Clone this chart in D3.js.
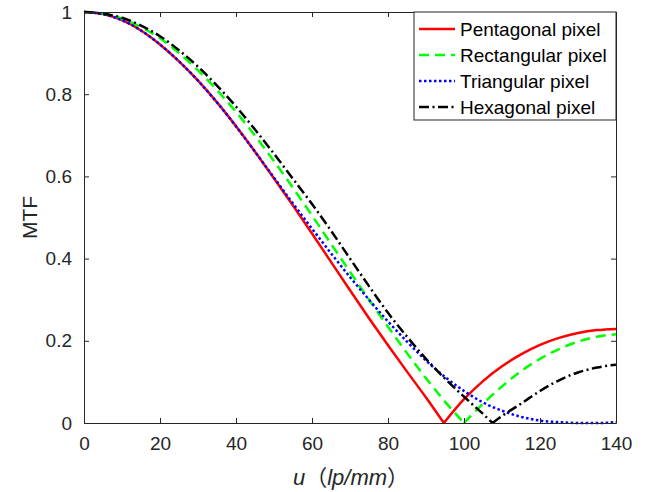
<!DOCTYPE html>
<html>
<head>
<meta charset="utf-8">
<script src="https://cdn.jsdelivr.net/npm/d3@7"></script>
<style>
  html, body { margin: 0; padding: 0; background: #fff; }
  svg { display: block; font-family: "Liberation Sans", Arial, sans-serif; }
</style>
</head>
<body>
<div id="chart"></div>
<script>
// ── Data ──────────────────────────────────────────────────────────────────
const xTicks = [0, 20, 40, 60, 80, 100, 120, 140];
const yTicks = [0, 0.2, 0.4, 0.6, 0.8, 1];

// Pentagonal pixel: V-shaped zero at u ≈ 94.7
const uPent   = [0, 5, 10, 15, 20, 25, 30, 35, 40, 45, 50, 55, 60, 65, 70, 75, 80, 85, 90, 94.7,
                 100, 105, 110, 115, 120, 125, 130, 135, 140];
const mtfPent = [1, 0.995, 0.980, 0.955, 0.921, 0.880, 0.833, 0.780, 0.722, 0.660, 0.595, 0.529,
                 0.461, 0.392, 0.323, 0.255, 0.189, 0.125, 0.062, 0,
                 0.058, 0.102, 0.138, 0.167, 0.190, 0.207, 0.219, 0.226, 0.229];

// Rectangular pixel: zero at u = 100
const uRect   = [0, 5, 10, 15, 20, 25, 30, 35, 40, 45, 50, 55, 60, 65, 70, 75, 80, 85, 90, 95,
                 100, 105, 110, 115, 120, 125, 130, 135, 140];
const mtfRect = [1, 0.996, 0.984, 0.963, 0.936, 0.900, 0.858, 0.810, 0.757, 0.699, 0.637, 0.572,
                 0.505, 0.436, 0.368, 0.300, 0.234, 0.170, 0.109, 0.052,
                 0, 0.047, 0.089, 0.126, 0.156, 0.180, 0.198, 0.210, 0.216];

// Triangular pixel: no sharp zero, flattens out near 130
const uTri    = [0, 5, 10, 15, 20, 25, 30, 35, 40, 45, 50, 55, 60, 65, 70, 75, 80, 85, 90, 95,
                 100, 105, 110, 115, 120, 125, 130, 135, 140];
const mtfTri  = [1, 0.995, 0.980, 0.955, 0.921, 0.880, 0.833, 0.780, 0.722, 0.660, 0.597, 0.534,
                 0.473, 0.413, 0.355, 0.300, 0.247, 0.198, 0.152, 0.112,
                 0.078, 0.050, 0.030, 0.015, 0.006, 0.002, 0.000, 0.000, 0.002];

// Hexagonal pixel: zero at u ≈ 107.5
const uHex    = [0, 5, 10, 15, 20, 25, 30, 35, 40, 45, 50, 55, 60, 65, 70, 75, 80, 85, 90, 95,
                 100, 105, 107.5, 110, 115, 120, 125, 130, 135, 140];
const mtfHex  = [1, 0.996, 0.986, 0.967, 0.941, 0.907, 0.867, 0.821, 0.770, 0.714, 0.655, 0.594,
                 0.533, 0.468, 0.400, 0.333, 0.268, 0.210, 0.156, 0.108,
                 0.064, 0.022, 0, 0.017, 0.047, 0.078, 0.104, 0.123, 0.135, 0.142];

const seriesNames = ['Pentagonal pixel', 'Rectangular pixel', 'Triangular pixel', 'Hexagonal pixel'];

// ── Layout ────────────────────────────────────────────────────────────────
const W = 646, H = 492;
const mLeft = 84, mRight = 616, mTop = 12, mBottom = 423;
const axisCol = '#262626';
const fontSize = 19;

const styles = [
  { color: '#ff0000', dash: null },
  { color: '#00ff00', dash: '10,6' },
  { color: '#0000ff', dash: '2.5,2.5' },
  { color: '#000000', dash: '10,3.5,2,3.5' }
];

const series = [
  { u: uPent, v: mtfPent },
  { u: uRect, v: mtfRect },
  { u: uTri,  v: mtfTri  },
  { u: uHex,  v: mtfHex  }
];

const svg = d3.select('#chart').append('svg')
  .attr('width', W).attr('height', H);

const x = d3.scaleLinear().domain([0, 140]).range([mLeft, mRight]);
const y = d3.scaleLinear().domain([0, 1]).range([mBottom, mTop]);

// ── Curves: split at zeros so the V bottoms stay sharp ───────────────────
const line = d3.line().x(d => x(d[0])).y(d => y(d[1])).curve(d3.curveMonotoneX);

function splitAtZeros(pts) {
  const segs = [];
  let cur = [];
  pts.forEach((p, i) => {
    cur.push(p);
    if (p[1] === 0 && i > 0 && i < pts.length - 1 && pts[i - 1][1] > 0 && pts[i + 1][1] > 0) {
      segs.push(cur);
      cur = [p];
    }
  });
  segs.push(cur);
  return segs;
}

const plotG = svg.append('g');
series.forEach((s, i) => {
  const pts = s.u.map((u, j) => [u, s.v[j]]);
  const d = splitAtZeros(pts).map(seg => line(seg)).join('');
  plotG.append('path')
    .attr('d', d)
    .attr('fill', 'none')
    .attr('stroke', styles[i].color)
    .attr('stroke-width', 2.5)
    .attr('stroke-dasharray', styles[i].dash)
    .attr('stroke-linejoin', 'round');
});

// ── Axes (box with mirrored inward ticks) ────────────────────────────────
const fmtY = d => d === 0 ? '0' : d === 1 ? '1' : d3.format('.1f')(d);

svg.append('g')
  .attr('transform', `translate(0,${mBottom})`)
  .call(d3.axisBottom(x).tickValues(xTicks).tickSizeInner(-5).tickSizeOuter(0).tickPadding(14))
  .call(g => g.selectAll('text').attr('font-size', fontSize).attr('fill', axisCol).attr('font-family', null));

svg.append('g')
  .attr('transform', `translate(0,${mTop})`)
  .call(d3.axisTop(x).tickValues(xTicks).tickSizeInner(-5).tickSizeOuter(0).tickFormat(''));

svg.append('g')
  .attr('transform', `translate(${mLeft},0)`)
  .call(d3.axisLeft(y).tickValues(yTicks).tickSizeInner(-5).tickSizeOuter(0).tickPadding(12).tickFormat(fmtY))
  .call(g => g.selectAll('text').attr('font-size', fontSize).attr('fill', axisCol).attr('font-family', null));

svg.append('g')
  .attr('transform', `translate(${mRight},0)`)
  .call(d3.axisRight(y).tickValues(yTicks).tickSizeInner(-5).tickSizeOuter(0).tickFormat(''));

svg.selectAll('.domain, .tick line').attr('stroke', axisCol);

// ── Axis labels ──────────────────────────────────────────────────────────
svg.append('text')
  .attr('transform', `translate(37,${(mTop + mBottom) / 2}) rotate(-90)`)
  .attr('text-anchor', 'middle')
  .attr('font-size', 21)
  .attr('fill', axisCol)
  .text('MTF');

const xl = svg.append('text')
  .attr('x', 351)
  .attr('y', 485)
  .attr('text-anchor', 'middle')
  .attr('font-size', 22)
  .attr('fill', axisCol);
xl.append('tspan').attr('font-style', 'italic').text('u');
xl.append('tspan').attr('font-family', '"Noto Sans CJK SC"').text('（');
xl.append('tspan').attr('font-style', 'italic').text('lp/mm');
xl.append('tspan').attr('font-family', '"Noto Sans CJK SC"').text('）');

// ── Legend ───────────────────────────────────────────────────────────────
const legX = 414, legY = 12, legW = 202, legH = 108, rowH = 26;
const leg = svg.append('g');
leg.append('rect')
  .attr('x', legX).attr('y', legY).attr('width', legW).attr('height', legH)
  .attr('fill', '#fff').attr('stroke', axisCol).attr('stroke-width', 1);

seriesNames.forEach((name, i) => {
  const cy = legY + 17 + i * rowH;
  leg.append('line')
    .attr('x1', legX + 5).attr('x2', legX + 41)
    .attr('y1', cy).attr('y2', cy)
    .attr('stroke', styles[i].color)
    .attr('stroke-width', 2.5)
    .attr('stroke-dasharray', styles[i].dash);
  leg.append('text')
    .attr('x', legX + 46).attr('y', cy)
    .attr('dy', '0.35em')
    .attr('font-size', fontSize)
    .attr('fill', '#000')
    .text(name);
});
</script>
</body>
</html>
